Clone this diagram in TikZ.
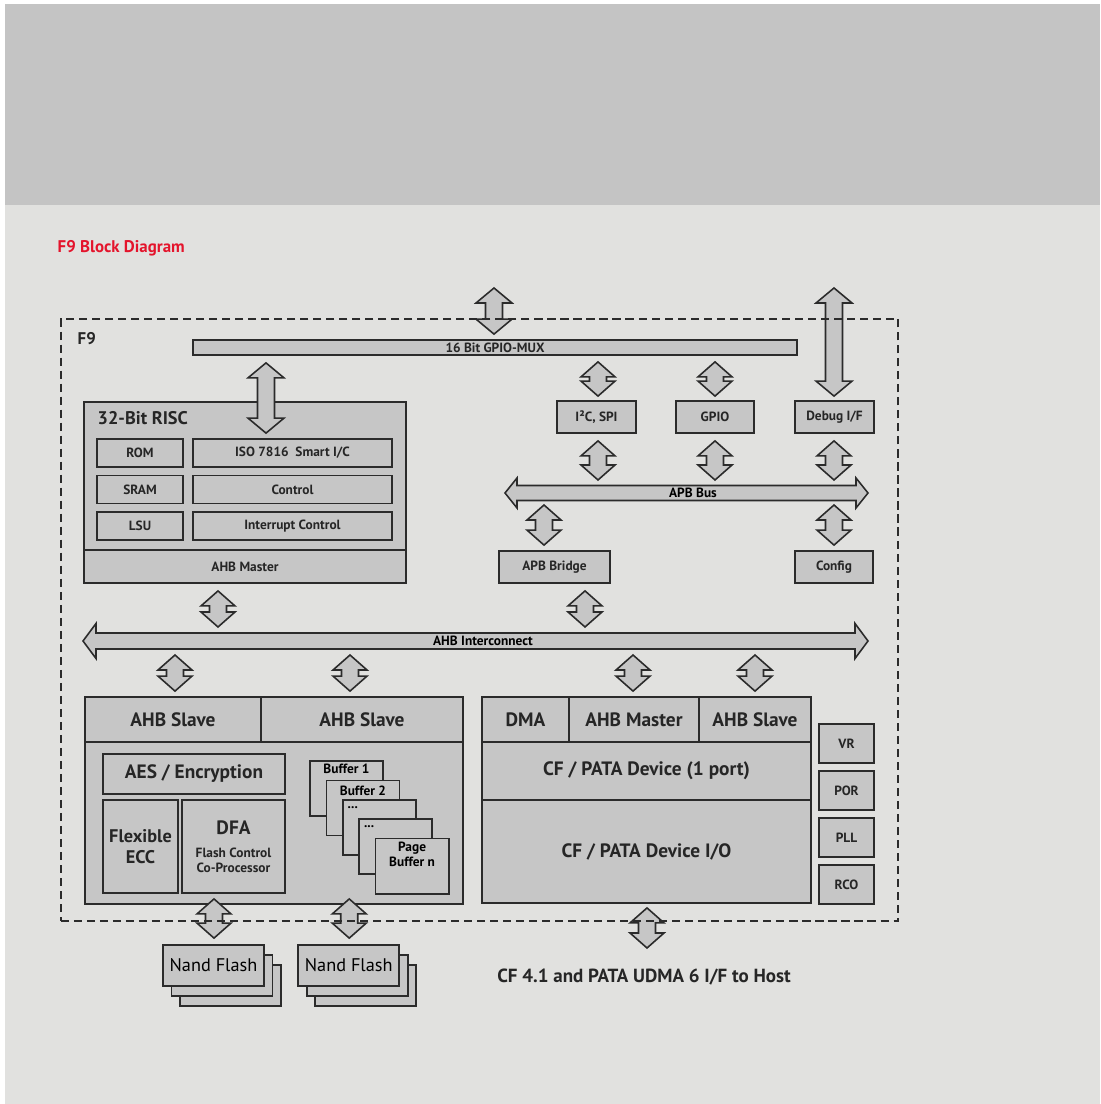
\documentclass[tikz,border=0pt]{standalone}
\usepackage{fontspec}
\setmainfont{PT Sans}
\usetikzlibrary{calc}

\definecolor{bandgray}{HTML}{C4C4C4}
\definecolor{pagegray}{HTML}{E1E1DF}
\definecolor{boxgray}{HTML}{C6C6C6}
\definecolor{edgegray}{HTML}{2B2B2B}
\definecolor{titlered}{HTML}{E4142C}

\newcommand\ftiny{\fontsize{3.8}{4.2}\selectfont\bfseries}
\newcommand\fmid{\fontsize{5.5}{6.4}\selectfont\bfseries}
\newcommand\fhead{\fontsize{5.2}{6}\selectfont\bfseries}
\newcommand\ftitle{\fontsize{4.8}{5.6}\selectfont\bfseries}

\tikzset{
  headw/.store in=\arrhw, shaftw/.store in=\arrsw, headl/.store in=\arrhl,
  headw=17, shaftw=8.5, headl=15,
  blk/.style={draw=edgegray, fill=boxgray, line width=0.5pt, inner sep=0pt, text=black!85},
  updown/.style={draw=edgegray, fill=boxgray, line width=0.45pt,
    to path={-- ++(\arrhw,\arrhl) -- ++(-\arrhw+\arrsw,0) -- ($(\tikztotarget)+(\arrsw,-\arrhl)$)
      -- ++(\arrhw-\arrsw,0) -- (\tikztotarget) -- ++(-\arrhw,-\arrhl) -- ++(\arrhw-\arrsw,0)
      -- ($(\tikztostart)+(-\arrsw,\arrhl)$) -- ++(-\arrhw+\arrsw,0) -- cycle}},
  leftright/.style={draw=edgegray, fill=boxgray, line width=0.45pt,
    to path={-- ++(\arrhl,-\arrhw) -- ++(0,\arrhw-\arrsw) -- ($(\tikztotarget)+(-\arrhl,-\arrsw)$)
      -- ++(0,-\arrhw+\arrsw) -- (\tikztotarget) -- ++(-\arrhl,\arrhw) -- ++(0,-\arrhw+\arrsw)
      -- ($(\tikztostart)+(\arrhl,\arrsw)$) -- ++(0,\arrhw-\arrsw) -- cycle}},
}

\begin{document}
\begin{tikzpicture}[x=0.01cm, y=-0.01cm]
    \useasboundingbox (0,0) rectangle (1100,1104);
    \fill[white] (0,0) rectangle (1100,1104);
    \fill[bandgray] (5,4) rectangle (1100,205);
    \fill[pagegray] (5,205) rectangle (1100,1104);

    \node[anchor=west, inner sep=0pt, text=titlered, font=\ftitle] (title) at (57,248) {F9 Block Diagram};

    % top row
    \node[blk, font=\ftiny, minimum width=6.04cm, minimum height=0.15cm] (mux) at (495,347.5) {16 Bit GPIO-MUX};
    \node[blk, font=\ftiny, minimum width=0.79cm, minimum height=0.32cm] (i2c) at (596.5,417) {I²C, SPI};
    \node[blk, font=\ftiny, minimum width=0.78cm, minimum height=0.32cm] (gpio) at (715,417) {GPIO};
    \node[blk, font=\ftiny, minimum width=0.79cm, minimum height=0.32cm] (dbg) at (834.5,417) {Debug I/F};
    \node[blk, font=\ftiny, minimum width=1.11cm, minimum height=0.32cm] (bridge) at (554.5,567) {APB Bridge};
    \node[blk, font=\ftiny, minimum width=0.78cm, minimum height=0.32cm] (cfg) at (834,567) {Config};

    % 32-bit RISC
    \node[blk, minimum width=3.22cm, minimum height=1.81cm] (risc) at (245,492.5) {};
    \node[anchor=west, inner sep=0pt, font=\fhead, text=black!85] (risctxt) at (97,418) {32-Bit RISC};
    \node[blk, font=\ftiny, minimum width=3.22cm, minimum height=0.33cm] (rmaster) at (245,566.5) {AHB Master};
    \node[blk, font=\ftiny, minimum width=0.86cm, minimum height=0.28cm] (rom) at (140,453) {ROM};
    \node[blk, font=\ftiny, minimum width=1.99cm, minimum height=0.28cm] (iso) at (292.5,453) {ISO 7816\ \ Smart I/C};
    \node[blk, font=\ftiny, minimum width=0.86cm, minimum height=0.28cm] (sram) at (140,489.5) {SRAM};
    \node[blk, font=\ftiny, minimum width=1.99cm, minimum height=0.28cm] (ctrl) at (292.5,489.5) {Control};
    \node[blk, font=\ftiny, minimum width=0.86cm, minimum height=0.28cm] (lsu) at (140,526) {LSU};
    \node[blk, font=\ftiny, minimum width=1.99cm, minimum height=0.28cm] (irq) at (292.5,526) {Interrupt Control};

    % flash side
    \node[blk, font=\fmid, minimum width=1.76cm, minimum height=0.45cm] (slvA) at (173,719.5) {AHB Slave};
    \node[blk, font=\fmid, minimum width=2.02cm, minimum height=0.45cm] (slvB) at (362,719.5) {AHB Slave};
    \node[blk, minimum width=3.78cm, minimum height=1.62cm] (nfbody) at (274,823) {};
    \node[blk, font=\fmid, minimum width=1.82cm, minimum height=0.40cm] (aes) at (194,774) {AES / Encryption};
    \node[blk, font=\fontsize{5.2}{6}\selectfont\bfseries, align=center, minimum width=0.75cm, minimum height=0.93cm] (ecc) at (140.5,846.5) {Flexible\\ECC};
    \node[blk, font=\ftiny, align=center, minimum width=1.03cm, minimum height=0.93cm] (dfa) at (233.5,846.5)
      {{\fmid DFA}\\[2.3pt]Flash Control\\Co-Processor};
    \foreach \i in {0,...,4}
      \node[blk, minimum width=0.73cm, minimum height=0.55cm] (buf\i) at (346.5+16.4*\i, 788.5+19.4*\i) {};
    \node[font=\ftiny] (buf0txt) at ($(buf0.north)+(0,9)$) {Buffer 1};
    \node[font=\ftiny] (buf1txt) at ($(buf1.north)+(0,11)$) {Buffer 2};
    \node[font=\ftiny, inner sep=0pt, anchor=west] (buf2txt) at ($(buf2.north west)+(5,9)$) {...};
    \node[font=\ftiny, inner sep=0pt, anchor=west] (buf3txt) at ($(buf3.north west)+(5,8)$) {...};
    \node[font=\ftiny, align=center] (buf4txt) at ($(buf4.north)+(0,17)$) {Page\\Buffer n};

    % CF / PATA side
    \node[blk, font=\fmid, minimum width=0.87cm, minimum height=0.45cm] (dma) at (525.5,719.5) {DMA};
    \node[blk, font=\fmid, minimum width=1.30cm, minimum height=0.45cm] (cfm) at (634,719.5) {AHB Master};
    \node[blk, font=\fmid, minimum width=1.12cm, minimum height=0.45cm] (cfs) at (755,719.5) {AHB Slave};
    \node[blk, font=\fmid, minimum width=3.29cm, minimum height=0.58cm] (cfdev) at (646.5,771) {CF / PATA Device (1 port)};
    \node[blk, font=\fmid, minimum width=3.29cm, minimum height=1.03cm] (cfio) at (646.5,851.5) {CF / PATA Device I/O};
    \node[blk, font=\ftiny, minimum width=0.55cm, minimum height=0.39cm] (vr) at (846.5,743.5) {VR};
    \node[blk, font=\ftiny, minimum width=0.55cm, minimum height=0.39cm] (por) at (846.5,790.5) {POR};
    \node[blk, font=\ftiny, minimum width=0.55cm, minimum height=0.39cm] (pll) at (846.5,837.5) {PLL};
    \node[blk, font=\ftiny, minimum width=0.55cm, minimum height=0.39cm] (rco) at (846.5,884.5) {RCO};

    % nand stacks
    \foreach \k in {2,1} {
      \node[blk, minimum width=1.01cm, minimum height=0.41cm] (nandA\k) at (213.5+8.5*\k, 965.5+10*\k) {};
      \node[blk, minimum width=1.01cm, minimum height=0.41cm] (nandB\k) at (348.75+8.5*\k, 965.5+10*\k) {};
    }
    \node[blk, font=\fontsize{5.2}{6}\selectfont, text=black, minimum width=1.01cm, minimum height=0.41cm] (nandA) at (213.5,965.5) {Nand Flash};
    \node[blk, font=\fontsize{5.2}{6}\selectfont, text=black, minimum width=1.01cm, minimum height=0.41cm] (nandB) at (348.75,965.5) {Nand Flash};
    \node[font=\fontsize{5.4}{6.2}\selectfont\bfseries, text=black!85] (host) at (644,977) {CF 4.1 and PATA UDMA 6 I/F to Host};

    % arrow ends
    \coordinate (gpioExt) at (494,288);
    \coordinate (muxTop) at ($(mux.north -| gpioExt)+(0,-5)$);
    \coordinate (dbgExt) at (834,288);
    \coordinate (dbgTop) at ($(dbg.north)+(-0.5,-4)$);
    \coordinate (riscFeed) at ($(mux.south -| risc.north)+(21,7)$);
    \coordinate (riscIn) at ($(iso.north -| riscFeed)+(0,-5)$);
    \coordinate (apbL) at (505,493);
    \coordinate (apbR) at (868,493);
    \coordinate (ahbL) at (83,641);
    \coordinate (ahbR) at (868,641);
    \coordinate (i2cFeed) at ($(mux.south -| i2c.north)+(1.5,6)$);
    \coordinate (i2cTop) at ($(i2c.north)+(1.5,-4)$);
    \coordinate (i2cBot) at ($(i2c.south)+(1.5,7)$);
    \coordinate (i2cBus) at ($(apbL -| i2cBot)+(0,-13)$);
    \coordinate (gpioFeed) at ($(mux.south -| gpio.north)+(0,6)$);
    \coordinate (gpioTop) at ($(gpio.north)+(0,-4)$);
    \coordinate (gpioBot) at ($(gpio.south)+(0,7)$);
    \coordinate (gpioBus) at ($(apbL -| gpioBot)+(0,-13)$);
    \coordinate (dbgBot) at ($(dbg.south)+(-0.5,7)$);
    \coordinate (dbgBus) at ($(apbL -| dbgBot)+(0,-13)$);
    \coordinate (bridgeBus) at ($(apbL -| bridge.north)+(-10.5,12)$);
    \coordinate (bridgeTop) at ($(bridge.north)+(-10.5,-5)$);
    \coordinate (cfgBus) at ($(apbL -| cfg.north)+(0,12)$);
    \coordinate (cfgTop) at ($(cfg.north)+(0,-5)$);
    \coordinate (bridgeBot) at ($(bridge.south)+(30.5,7)$);
    \coordinate (bridgeAhb) at ($(ahbL -| bridgeBot)+(0,-14)$);
    \coordinate (riscBot) at ($(risc.south)+(-27,7)$);
    \coordinate (riscAhb) at ($(ahbL -| riscBot)+(0,-14)$);
    \coordinate (slvAAhb) at ($(ahbL -| slvA.north)+(2,14)$);
    \coordinate (slvATop) at ($(slvA.north)+(2,-5)$);
    \coordinate (slvBAhb) at ($(ahbL -| slvB.north)+(-12,14)$);
    \coordinate (slvBTop) at ($(slvB.north)+(-12,-5)$);
    \coordinate (cfmAhb) at ($(ahbL -| cfm.north)+(-1,14)$);
    \coordinate (cfmTop) at ($(cfm.north)+(-1,-5)$);
    \coordinate (cfsAhb) at ($(ahbL -| cfs.north)+(0,14)$);
    \coordinate (cfsTop) at ($(cfs.north)+(0,-5)$);
    \coordinate (flashA) at ($(nfbody.south -| nandA.north)+(0.5,-6)$);
    \coordinate (nandATop) at ($(nandA.north)+(0.5,-6)$);
    \coordinate (flashB) at ($(nfbody.south -| nandB.north)+(0.5,-6)$);
    \coordinate (nandBTop) at ($(nandB.north)+(0.5,-6)$);
    \coordinate (cfOut) at ($(cfio.south)+(0.5,4)$);
    \coordinate (hostPort) at (647,948);

    % buses
    \draw[leftright, headw=15, shaftw=7.5, headl=12] (apbL) to (apbR);
    \node[font=\ftiny] (apbtxt) at (693,493) {APB Bus};
    \draw[leftright, headw=17.5, shaftw=8, headl=13] (ahbL) to (ahbR);
    \node[font=\ftiny] (ahbtxt) at (483,641) {AHB Interconnect};

    % block arrows
    \draw[updown, headw=18] (gpioExt) to (muxTop);
    \draw[updown, headw=18] (dbgExt) to (dbgTop);
    \draw[updown, headw=18] (riscFeed) to (riscIn);
    \draw[updown] (i2cFeed) to (i2cTop);
    \draw[updown] (gpioFeed) to (gpioTop);
    \draw[updown] (i2cBot) to (i2cBus);
    \draw[updown] (gpioBot) to (gpioBus);
    \draw[updown] (dbgBot) to (dbgBus);
    \draw[updown] (bridgeBus) to (bridgeTop);
    \draw[updown] (cfgBus) to (cfgTop);
    \draw[updown] (bridgeBot) to (bridgeAhb);
    \draw[updown] (riscBot) to (riscAhb);
    \draw[updown] (slvAAhb) to (slvATop);
    \draw[updown] (slvBAhb) to (slvBTop);
    \draw[updown] (cfmAhb) to (cfmTop);
    \draw[updown] (cfsAhb) to (cfsTop);
    \draw[updown] (flashA) to (nandATop);
    \draw[updown] (flashB) to (nandBTop);
    \draw[updown] (cfOut) to (hostPort);

    % chip border
    \node[draw=edgegray, dash pattern=on 2.3pt off 1.4pt, line width=0.45pt, inner sep=0pt,
      minimum width=8.37cm, minimum height=6.02cm] (f9) at (479.5,620) {};
    \node[anchor=west, inner sep=0pt, font=\ftitle, text=black!85] (f9txt) at (77,339) {F9};
\end{tikzpicture}
\end{document}
